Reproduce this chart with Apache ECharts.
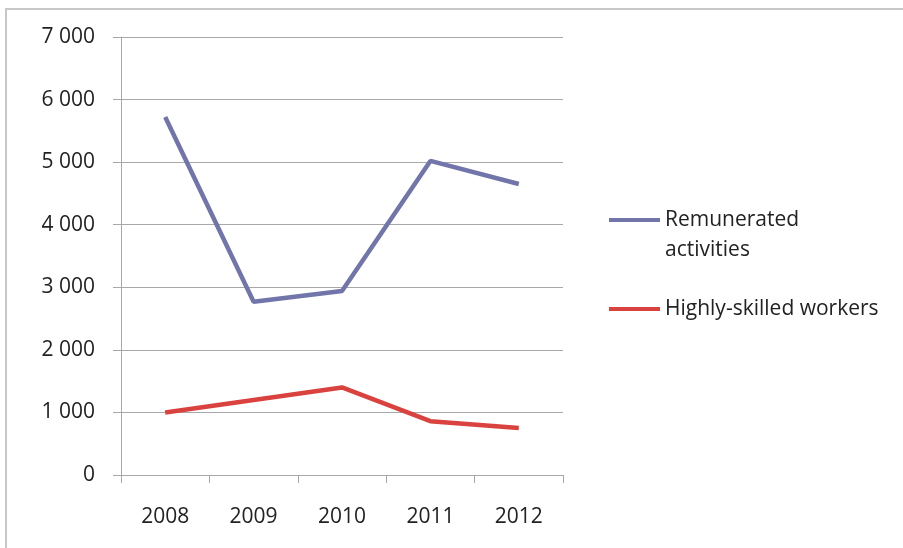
<!DOCTYPE html>
<html>
<head>
<meta charset="utf-8">
<title>Remunerated activities vs highly-skilled workers</title>
<script src="https://cdn.jsdelivr.net/npm/echarts@6/dist/echarts.min.js"></script>
<style>
  html, body { margin: 0; padding: 0; background: #fff; }
  .frame {
    position: absolute; left: 5px; top: 8px; width: 1000px; height: 700px;
    border-top: 2px solid #c8c8c8; border-left: 2px solid #c8c8c8;
  }
  #chart { position: absolute; left: 0; top: 0; width: 903px; height: 548px; }
</style>
</head>
<body>
<div class="frame"></div>
<div id="chart"></div>
<script>
// data
const years = ['2008', '2009', '2010', '2011', '2012']
const remunerated = [5720, 2770, 2940, 5020, 4650]
const highlySkilled = [1000, 1200, 1400, 860, 750]
const seriesNames = ['Remunerated activities', 'Highly-skilled workers']

const FONT = '"Open Sans", "Liberation Sans", sans-serif'
const GRAY = '#a8a8a8'
const BLUE = '#7275aa'
const RED = '#d9423e'

// "7000" -> "7 000"
const spaced = v => String(v).replace(/\B(?=(\d{3})+(?!\d))/g, ' ')

const chart = echarts.init(document.getElementById('chart'), null, { renderer: 'canvas' })

const legendBase = {
  orient: 'vertical',
  left: 604,
  icon: 'rect',
  itemWidth: 51,
  itemHeight: 4,
  selectedMode: false,
  textStyle: { fontFamily: FONT, fontSize: 21, color: '#222', lineHeight: 30 }
}

chart.setOption({
  backgroundColor: 'transparent',
  animation: false,
  grid: { left: 121, right: 340, top: 37, bottom: 73 },
  legend: [
    // blank first line so "Remunerated" sits level with the swatch
    Object.assign({}, legendBase, {
      top: 170,
      data: [seriesNames[0]],
      formatter: () => '\nRemunerated\nactivities'
    }),
    Object.assign({}, legendBase, {
      top: 289,
      data: [seriesNames[1]]
    })
  ],
  xAxis: {
    type: 'category',
    data: years,
    boundaryGap: true,
    axisLine: { lineStyle: { color: GRAY, width: 1 } },
    axisTick: { show: true, length: 8, inside: false, lineStyle: { color: GRAY } },
    axisLabel: { margin: 32, fontFamily: FONT, fontSize: 21, color: '#222' }
  },
  yAxis: {
    type: 'value',
    min: 0,
    max: 7000,
    interval: 1000,
    axisLine: { show: true, lineStyle: { color: GRAY, width: 1 } },
    axisTick: { show: true, length: 8, lineStyle: { color: GRAY } },
    splitLine: { lineStyle: { color: GRAY, width: 1 } },
    axisLabel: { margin: 26, fontFamily: FONT, fontSize: 21, color: '#222', formatter: spaced }
  },
  series: [
    {
      name: seriesNames[0],
      type: 'line',
      data: remunerated,
      symbol: 'none',
      itemStyle: { color: BLUE },
      lineStyle: { color: BLUE, width: 4.5 }
    },
    {
      name: seriesNames[1],
      type: 'line',
      data: highlySkilled,
      symbol: 'none',
      itemStyle: { color: RED },
      lineStyle: { color: RED, width: 4.5 }
    }
  ]
})
</script>
</body>
</html>
